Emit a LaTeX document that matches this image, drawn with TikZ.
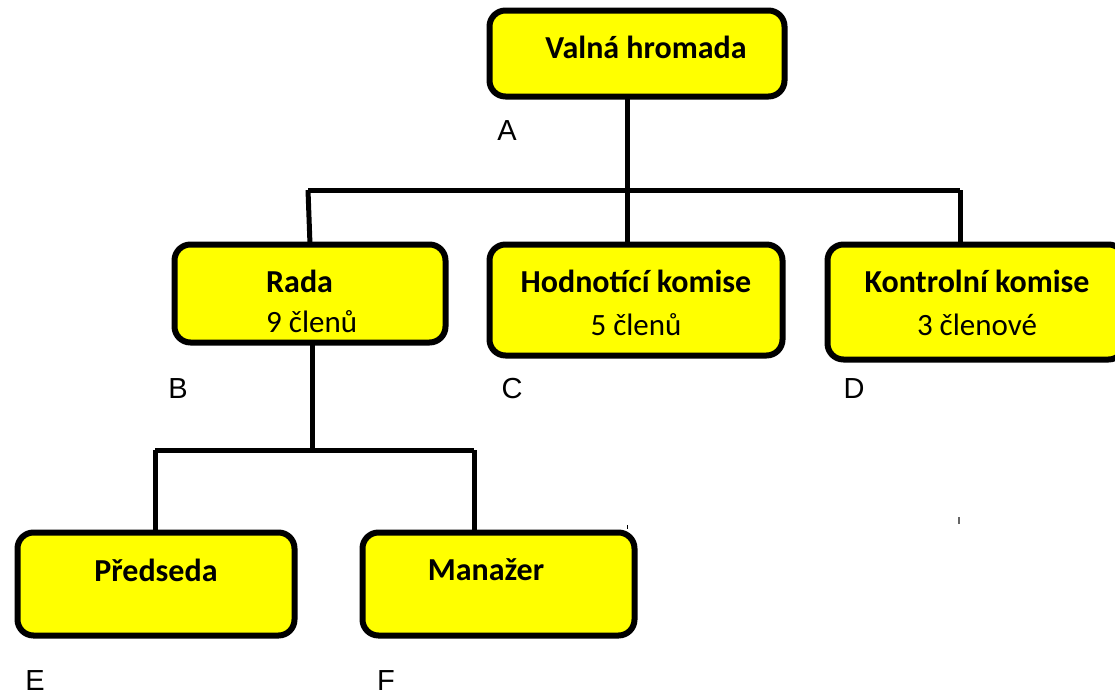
\documentclass[tikz,border=0pt]{standalone}
\usepackage{fontspec}
\setmainfont{Carlito}
\newfontfamily\lblfont{Liberation Sans}
\definecolor{boxyellow}{RGB}{255,255,0}
\begin{document}
\begin{tikzpicture}[x=1pt,y=-1pt,
  box/.style={draw=black, fill=boxyellow, line width=6pt, rounded corners=16pt, inner sep=0pt, outer sep=0pt},
  conn/.style={draw=black, line width=5pt},
  ttl/.style={font=\fontsize{32}{36}\selectfont\bfseries, inner sep=0pt},
  sub/.style={font=\fontsize{31}{35}\selectfont, inner sep=0pt},
  lbl/.style={font=\lblfont\fontsize{29}{33}\selectfont, inner sep=0pt}]
\useasboundingbox (0,0) rectangle (1115,696);
\node[box, minimum width=295pt, minimum height=86pt] (vh) at (637,53.5) {};
\node[box, minimum width=271pt, minimum height=98pt] (rada) at (310,293.5) {};
\node[box, minimum width=293pt, minimum height=111pt] (hk) at (636,300) {};
\node[box, minimum width=297pt, minimum height=115pt] (kk) at (976,302) {};
\node[box, minimum width=277pt, minimum height=103pt] (pr) at (156,584) {};
\node[box, minimum width=272pt, minimum height=103pt] (mn) at (498.5,584) {};
% texts
\node[ttl] (tvh) at (646,47) {Valná hromada};
\node[ttl, anchor=west] (trada) at (266,281) {Rada};
\node[sub, anchor=west] (srada) at (266,322) {9 členů};
\node[ttl] (thk) at (636,281) {Hodnotící komise};
\node[sub] (shk) at (636,325) {5 členů};
\node[ttl] (tkk) at (977,281) {Kontrolní komise};
\node[sub] (skk) at (977,325) {3 členové};
\node[ttl] (tpr) at (156,570) {Předseda};
\node[ttl] (tmn) at (486,570) {Manažer};
% letter labels
\node[lbl] (la) at (507,131) {A};
\node[lbl] (lb) at (178,389) {B};
\node[lbl] (lc) at (512,389) {C};
\node[lbl] (ld) at (854,389) {D};
\node[lbl] (le) at (35,681) {E};
\node[lbl] (lf) at (386,681) {F};
% connectors
\coordinate (j1) at (627,190);
\coordinate (jl) at (308,190);
\coordinate (jr) at (960,190);
\coordinate (j2) at (312,450);
\coordinate (j2l) at (155,450);
\coordinate (j2r) at (474,450);
\draw[conn] (vh.south -| j1) -- (j1) -- (hk.north -| j1);
\draw[conn] (jl) -- (jr);
\draw[conn] (jl) -- (310,244.5);
\draw[conn] (jr) -- (kk.north -| jr);
\draw[conn] (rada.south -| j2) -- (j2);
\draw[conn] (j2l) -- (j2r);
\draw[conn] (j2l) -- (pr.north -| j2l);
\draw[conn] (j2r) -- (mn.north -| j2r);
% tiny marks
\draw[black!60, line width=1.2pt] (959,517) -- (959,524);
\draw[black, line width=0.8pt] (627,525) -- (627,529);
\end{tikzpicture}
\end{document}
